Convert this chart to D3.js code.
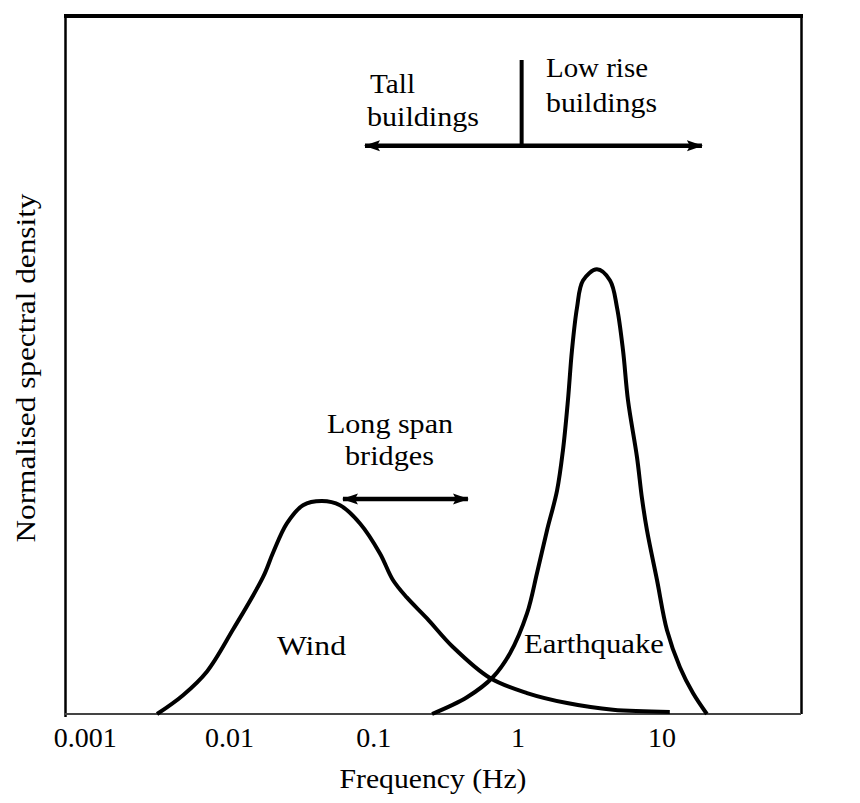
<!DOCTYPE html>
<html>
<head>
<meta charset="utf-8">
<script src="https://cdn.jsdelivr.net/npm/d3@7"></script>
<style>
  html, body { margin: 0; padding: 0; background: #fff; }
</style>
</head>
<body>
<svg id="chart" width="860" height="803"></svg>
<script>
// ---- data ----
const tickValues = [0.001, 0.01, 0.1, 1, 10];
const tickLabels = ["0.001", "0.01", "0.1", "1", "10"];

const windFreq = [0.00317, 0.0048, 0.00704, 0.01066, 0.01721, 0.0202, 0.0252, 0.0326, 0.0441, 0.0589, 0.081, 0.1114, 0.137, 0.171, 0.236, 0.357, 0.646, 1.166, 2.21, 4.60, 11.4];
const windValue = [0.0, 0.027, 0.061, 0.121, 0.196, 0.231, 0.273, 0.299, 0.305, 0.299, 0.273, 0.230, 0.192, 0.167, 0.137, 0.096, 0.0515, 0.030, 0.0157, 0.006, 0.003];

const quakeFreq = [0.256, 0.447, 0.678, 0.889, 1.166, 1.368, 1.604, 1.883, 2.07, 2.24, 2.39, 2.59, 2.85, 3.56, 4.39, 4.91, 5.40, 5.85, 6.75, 7.31, 7.92, 9.29, 10.9, 13.4, 16.5, 20.6];
const quakeValue = [0.0, 0.024, 0.053, 0.087, 0.144, 0.202, 0.263, 0.320, 0.378, 0.449, 0.521, 0.582, 0.621, 0.637, 0.621, 0.582, 0.521, 0.449, 0.368, 0.309, 0.263, 0.192, 0.120, 0.067, 0.030, 0.0];

// annotation arrows in data space: [from freq, to freq, level]
const buildingArrow = [0.0877, 19.05, 0.814];
const buildingDivider = [1.07, 0.814, 0.937];
const bridgeArrow = [0.0617, 0.454, 0.308];

// ---- layout ----
const FONT = "'Liberation Serif', 'Times New Roman', serif";
const svg = d3.select("#chart");
const frameLeft = 65.5, frameRight = 801.5, frameTop = 16, frameBottom = 714;

const x = d3.scaleLog()
  .domain([0.001, 10])
  .range([84.8, 661.6]);
const y = d3.scaleLinear().domain([0, 1]).range([frameBottom, frameTop]);

// frame
svg.append("line").attr("x1", 64).attr("x2", 803).attr("y1", frameTop).attr("y2", frameTop)
  .attr("stroke", "#000").attr("stroke-width", 4);
svg.append("line").attr("x1", frameLeft).attr("x2", frameLeft).attr("y1", 14).attr("y2", 717)
  .attr("stroke", "#000").attr("stroke-width", 2.5);
svg.append("line").attr("x1", frameRight).attr("x2", frameRight).attr("y1", 14).attr("y2", frameBottom)
  .attr("stroke", "#000").attr("stroke-width", 2.5);

// x axis
const xAxis = d3.axisBottom(x)
  .tickValues(tickValues)
  .tickFormat((d, i) => tickLabels[i])
  .tickSize(0)
  .tickPadding(14);
const gx = svg.append("g").attr("transform", `translate(0,${frameBottom})`).call(xAxis);
gx.select(".domain").remove();
gx.attr("font-family", null);
gx.selectAll("text")
  .style("font-family", FONT)
  .style("font-size", "28px")
  .attr("fill", "#000")
  .attr("dy", "0.68em");
svg.append("line").attr("x1", 65).attr("x2", 801).attr("y1", frameBottom).attr("y2", frameBottom)
  .attr("stroke", "#444").attr("stroke-width", 2);

// axis titles
svg.append("text").attr("x", 433).attr("y", 788).attr("text-anchor", "middle")
  .style("font-family", FONT).style("font-size", "28px")
  .attr("textLength", 187).attr("lengthAdjust", "spacingAndGlyphs")
  .text("Frequency (Hz)");
svg.append("text").attr("transform", "translate(35,368) rotate(-90)")
  .attr("text-anchor", "middle")
  .style("font-family", FONT).style("font-size", "28px")
  .attr("textLength", 349).attr("lengthAdjust", "spacingAndGlyphs")
  .text("Normalised spectral density");

// curves
const line = d3.line()
  .x(d => x(d[0]))
  .y(d => y(d[1]))
  .curve(d3.curveCatmullRom.alpha(0.5));

const wind = windFreq.map((f, i) => [f, windValue[i]]);
const quake = quakeFreq.map((f, i) => [f, quakeValue[i]]);

svg.append("path").datum(wind).attr("d", line)
  .attr("fill", "none").attr("stroke", "#000").attr("stroke-width", 4);
svg.append("path").datum(quake).attr("d", line)
  .attr("fill", "none").attr("stroke", "#000").attr("stroke-width", 4);

// arrow markers
const defs = svg.append("defs");
defs.append("marker").attr("id", "arrowEnd")
  .attr("markerUnits", "userSpaceOnUse")
  .attr("viewBox", "0 -6 16 12").attr("refX", 15).attr("refY", 0)
  .attr("markerWidth", 16).attr("markerHeight", 12).attr("orient", "auto")
  .append("path").attr("d", "M0,-5.5 L16,0 L0,5.5 L3,0 Z").attr("fill", "#000");
defs.append("marker").attr("id", "arrowStart")
  .attr("markerUnits", "userSpaceOnUse")
  .attr("viewBox", "0 -6 16 12").attr("refX", 1).attr("refY", 0)
  .attr("markerWidth", 16).attr("markerHeight", 12).attr("orient", "auto")
  .append("path").attr("d", "M16,-5.5 L0,0 L16,5.5 L13,0 Z").attr("fill", "#000");

function dblArrow(a, w) {
  svg.append("line")
    .attr("x1", x(a[0])).attr("x2", x(a[1]))
    .attr("y1", y(a[2])).attr("y2", y(a[2]))
    .attr("stroke", "#000").attr("stroke-width", w)
    .attr("marker-start", "url(#arrowStart)")
    .attr("marker-end", "url(#arrowEnd)");
}
dblArrow(buildingArrow, 4.5);
dblArrow(bridgeArrow, 4.5);

svg.append("line")
  .attr("x1", x(buildingDivider[0])).attr("x2", x(buildingDivider[0]))
  .attr("y1", y(buildingDivider[1])).attr("y2", y(buildingDivider[2]))
  .attr("stroke", "#000").attr("stroke-width", 4);

// labels
function label(t, px, py, w) {
  svg.append("text").attr("x", px).attr("y", py)
    .style("font-family", FONT).style("font-size", "28px").attr("fill", "#000")
    .attr("textLength", w).attr("lengthAdjust", "spacingAndGlyphs").text(t);
}
label("Tall", 370, 93, 45);
label("buildings", 367, 126, 112);
label("Low rise", 546, 77, 102);
label("buildings", 546, 112, 111);
label("Long span", 327, 433, 126);
label("bridges", 345, 465, 89);
label("Wind", 277, 655, 69);
label("Earthquake", 524, 653, 140);
</script>
</body>
</html>
